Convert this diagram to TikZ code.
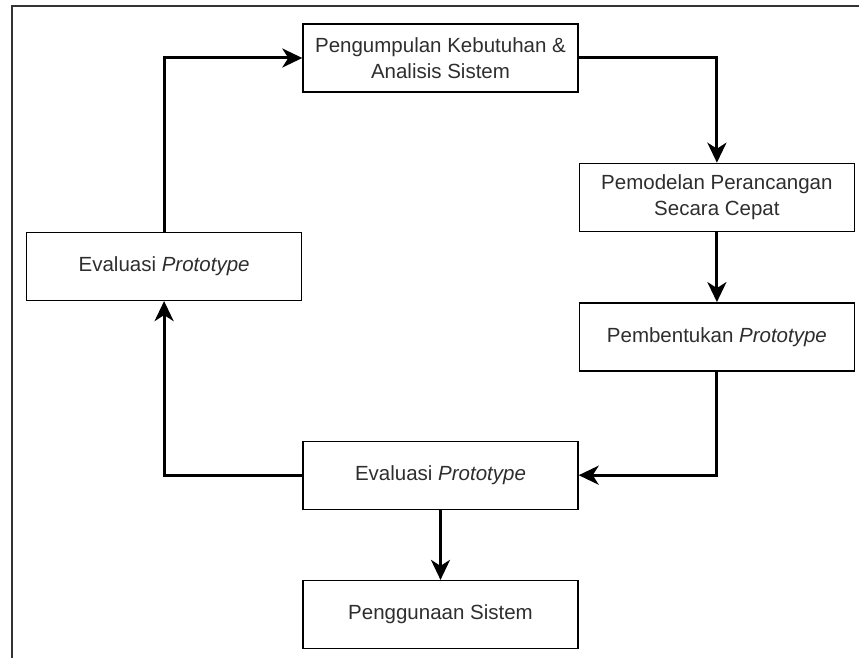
\documentclass[tikz,border=0pt]{standalone}
\usepackage{fontspec}
\setmainfont{Liberation Sans}
\usetikzlibrary{positioning,arrows.meta}

\begin{document}
\begin{tikzpicture}[x=1pt,y=-1pt,node distance=70pt,
		kotak/.style={draw,rectangle,line width=1.4pt,minimum width=275pt,minimum height=68pt,
			inner sep=0pt,align=center,text=black!82,font=\fontsize{20.5}{26}\selectfont},
		alur/.style={-{Stealth[length=20pt,width=19pt,inset=6pt]},line width=3pt}]
		\useasboundingbox (0,0) rectangle (859,658);
		% bingkai
		\draw[line width=2.5pt,black!80] (12,660) -- (12,6) -- (861,6);

		\node[kotak] (kebutuhan) at (440.5,58) {Pengumpulan Kebutuhan \&\\Analisis Sistem};
		\node[kotak] (pemodelan)[below right=70pt and 0pt of kebutuhan] {Pemodelan Perancangan\\Secara Cepat};
		\node[kotak] (bentuk)[below=70pt of pemodelan] {Pembentukan \textit{Prototype}};
		\node[kotak] (evaluasi)[below left=69pt and 0pt of bentuk] {Evaluasi \textit{Prototype}};
		\node[kotak] (guna)[below=70pt of evaluasi] {Penggunaan Sistem};
		\node[kotak] (evalkiri)[below left=139pt and 0pt of kebutuhan] {Evaluasi \textit{Prototype}};

		\draw[alur] (kebutuhan.east) -| (pemodelan.north);
		\draw[alur] (pemodelan) -- (bentuk);
		\draw[alur] (bentuk.south) |- (evaluasi.east);
		\draw[alur] (evaluasi) -- (guna);
		\draw[alur] (evaluasi.west) -| (evalkiri.south);
		\draw[alur] (evalkiri.north) |- (kebutuhan.west);
	\end{tikzpicture}
\end{document}
